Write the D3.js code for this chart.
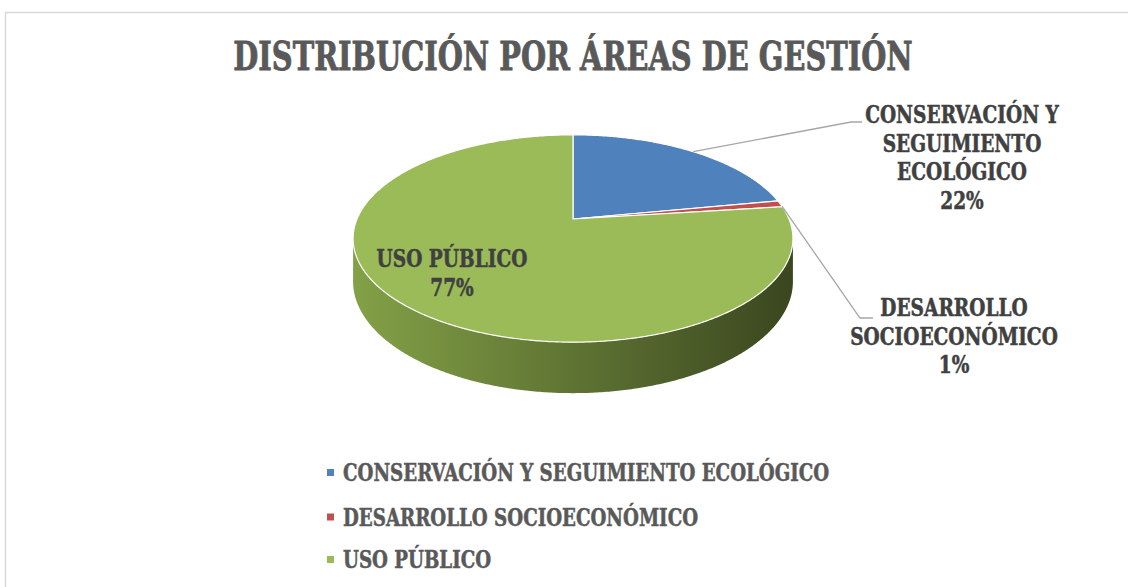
<!DOCTYPE html>
<html>
<head>
<meta charset="utf-8">
<script src="https://cdn.jsdelivr.net/npm/d3@7"></script>
<style>
  html, body { margin: 0; padding: 0; background: #ffffff; }
  svg { display: block; }
  .txt { font-family: "DejaVu Serif", serif; font-stretch: condensed; font-weight: bold; }
</style>
</head>
<body>
<svg id="chart" width="1128" height="587"></svg>
<script>
// Áreas de gestión y su peso en el presupuesto
const categories = ["CONSERVACIÓN Y SEGUIMIENTO ECOLÓGICO", "DESARROLLO SOCIOECONÓMICO", "USO PÚBLICO"];
const values = [22, 1, 77];
// Etiquetas de datos partidas en líneas
const labelLines = [["CONSERVACIÓN Y", "SEGUIMIENTO", "ECOLÓGICO"], ["DESARROLLO", "SOCIOECONÓMICO"], ["USO PÚBLICO"]];
const colors = ["#4f81bd", "#c0504d", "#9bbb59"];
const title = "DISTRIBUCIÓN POR ÁREAS DE GESTIÓN";

const svg = d3.select("#chart");
const W = 1128, H = 587;

// Texto estrechado horizontalmente (aspecto de tipografía condensada)
function narrowText(parent, x, y, k, str, size, fill, anchor, weight) {
  return parent.append("g")
    .attr("transform", `translate(${x},${y}) scale(${k},1)`)
    .append("text").attr("class", "txt")
    .attr("x", 0).attr("y", 0)
    .attr("text-anchor", anchor)
    .attr("font-size", size).attr("fill", fill)
    .attr("stroke", fill).attr("stroke-width", weight)
    .text(str);
}

// Marco del área del gráfico
svg.append("rect")
  .attr("x", 5.5).attr("y", 12.5).attr("width", W + 10).attr("height", H + 10)
  .attr("fill", "#ffffff").attr("stroke", "#d9d9d9").attr("stroke-width", 1.5);

// Título
narrowText(svg, 573, 70, 0.802, title, 40, "#595959", "middle", 0.8);

// Tarta 3D con perspectiva
const cx = 573, cy = 219, Rx = 216, Ry = 100, persp = 0.188, depth = 41.4;
function proj(theta, r, z) {
  const u = r * Math.sin(theta), v = -r * Math.cos(theta);
  const p = 1 / (1 - persp * v);
  return [cx + Rx * u * p, cy + Ry * v * p + z * depth * p];
}

const pie = d3.pie().sort(null).value(d => d)(values);
const total = d3.sum(values);
const step = Math.PI / 360;

function arcPts(a0, a1, z) {
  const n = Math.max(2, Math.ceil((a1 - a0) / step));
  return d3.range(n + 1).map(i => proj(a0 + (a1 - a0) * i / n, 1, z));
}

// Parte visible del lateral: entre los puntos de silueta
const thR = Math.acos(-persp), thL = 2 * Math.PI - thR;

const defs = svg.append("defs");
const shades = [
  ["#6a8fc6", "#2e4d7a"],
  ["#c96a67", "#7a2e2c"],
  ["#83a147", "#3a461f"]
];
shades.forEach((s, i) => {
  const g = defs.append("linearGradient").attr("id", "side" + i)
    .attr("gradientUnits", "userSpaceOnUse")
    .attr("x1", cx - Rx * 1.02).attr("x2", cx + Rx * 1.02).attr("y1", 0).attr("y2", 0);
  g.append("stop").attr("offset", "0%").attr("stop-color", s[0]);
  g.append("stop").attr("offset", "40%").attr("stop-color", d3.interpolateRgb(s[0], s[1])(0.4));
  g.append("stop").attr("offset", "100%").attr("stop-color", s[1]);
});

const line = d3.line();
const gPie = svg.append("g");

pie.forEach((d, i) => {
  const a0 = Math.max(d.startAngle, thR), a1 = Math.min(d.endAngle, thL);
  if (a1 <= a0) return;
  const top = arcPts(a0, a1, 0);
  const bot = arcPts(a0, a1, 1).reverse();
  gPie.append("path")
    .attr("d", line(top.concat(bot)) + "Z")
    .attr("fill", `url(#side${i})`);
});

// Caras superiores
pie.forEach((d, i) => {
  const pts = [proj(0, 0, 0)].concat(arcPts(d.startAngle, d.endAngle, 0));
  gPie.append("path")
    .attr("d", line(pts) + "Z")
    .attr("fill", colors[i])
    .attr("stroke", "#ffffff").attr("stroke-width", 1.2)
    .attr("stroke-linejoin", "round");
});

// Líneas guía
const leaders = [
  [0, [[851, 122], [862, 122]]],
  [1, [[860, 318], [873, 318]]]
];
leaders.forEach(([i, tail]) => {
  const d = pie[i];
  const mid = (d.startAngle + d.endAngle) / 2;
  const start = proj(i === 0 ? mid : d.endAngle - 0.004, 1, 0);
  svg.append("path")
    .attr("d", line([start].concat(tail)))
    .attr("fill", "none").attr("stroke", "#a6a6a6").attr("stroke-width", 1.3);
});

// Etiquetas de datos
const labelPos = [[962, 123], [954, 316], [452, 267]];
const lh = 28.5;
pie.forEach((d, i) => {
  const lines = labelLines[i].concat([Math.round(d.value / total * 100) + "%"]);
  lines.forEach((s, k) => {
    narrowText(svg, labelPos[i][0], labelPos[i][1] + k * lh, 0.86, s, 24, "#404040", "middle", 0.5);
  });
});

// Leyenda
const legY = [481, 525.5, 568];
categories.forEach((c, i) => {
  svg.append("rect").attr("x", 327).attr("y", legY[i] - 12).attr("width", 7).attr("height", 7)
    .attr("fill", colors[i]);
  narrowText(svg, 343, legY[i], 0.845, c, 24, "#595959", "start", 0.5);
});
</script>
</body>
</html>
